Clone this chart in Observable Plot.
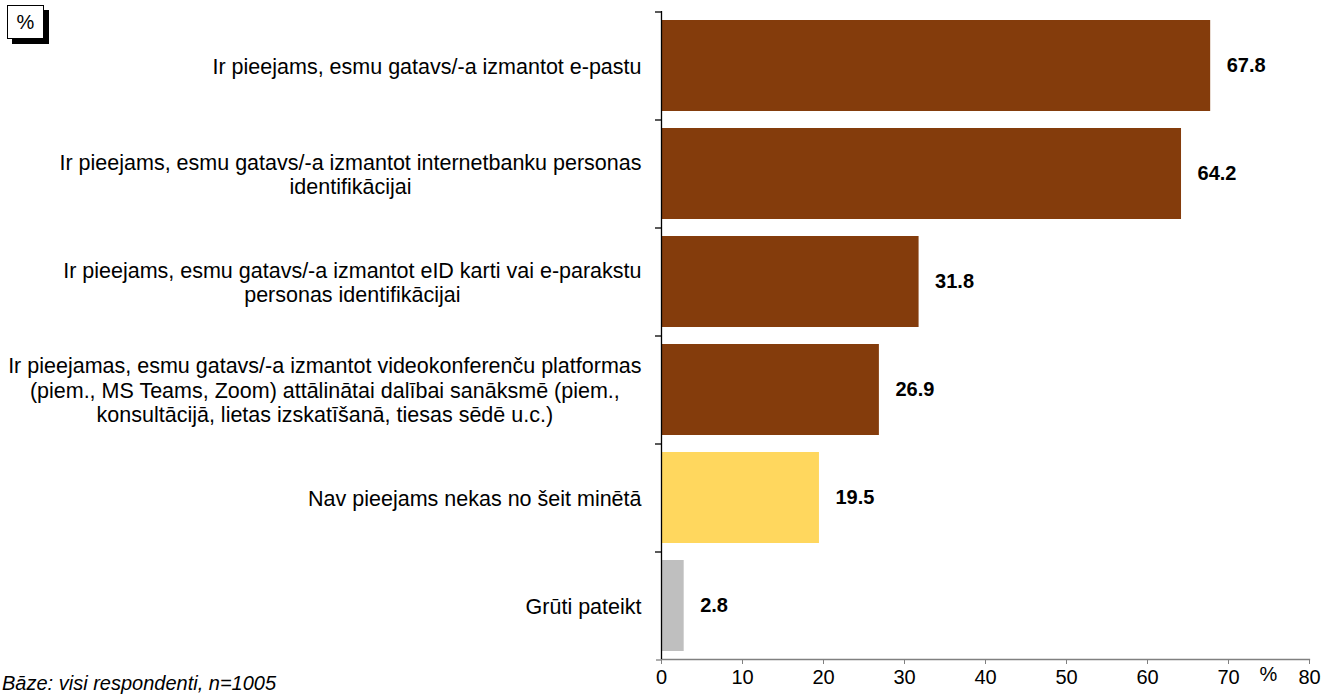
<!DOCTYPE html>
<html>
<head>
<meta charset="utf-8">
<script src="https://cdn.jsdelivr.net/npm/d3@7"></script>
<script src="https://cdn.jsdelivr.net/npm/@observablehq/plot@0.6"></script>
<style>
  html, body { margin: 0; padding: 0; overflow: hidden; background: #fff; width: 1333px; height: 695px; }
  #wrap { position: relative; width: 1333px; height: 695px; font-family: "Liberation Sans", Arial, sans-serif; }
  #chart { position: absolute; left: 0; top: 0; }
  #unitbox { position: absolute; left: 7px; top: 5px; width: 35px; height: 32px; border: 1px solid #000; background: #fff;
    box-shadow: 5px 5px 0 #000; font-size: 20px; line-height: 32px; text-align: center; color: #000; }
  #caption { position: absolute; left: 2px; top: 672px; font-size: 20px; line-height: 22px; font-style: italic; color: #000; white-space: nowrap; }
</style>
</head>
<body>
<div id="wrap">
  <div id="chart"></div>
  <div id="unitbox">%</div>
  <div id="caption">Bāze: visi respondenti, n=1005</div>
</div>
<script>
const categories = [
  "Ir pieejams, esmu gatavs/-a izmantot e-pastu",
  "Ir pieejams, esmu gatavs/-a izmantot internetbanku personas\nidentifikācijai",
  "Ir pieejams, esmu gatavs/-a izmantot eID karti vai e-parakstu\npersonas identifikācijai",
  "Ir pieejamas, esmu gatavs/-a izmantot videokonferenču platformas\n(piem., MS Teams, Zoom) attālinātai dalībai sanāksmē (piem.,\nkonsultācijā, lietas izskatīšanā, tiesas sēdē u.c.)",
  "Nav pieejams nekas no šeit minētā",
  "Grūti pateikt"
];
const values = [67.8, 64.2, 31.8, 26.9, 19.5, 2.8];
const barColors = ["#843C0C", "#843C0C", "#843C0C", "#843C0C", "#FFD75E", "#BFBFBF"];
const xTicks = [0, 10, 20, 30, 40, 50, 60, 70, 80];
const unitLabel = "%";

const data = categories.map((c, i) => ({category: c, value: values[i], color: barColors[i]}));

const W = 1333, H = 695;
const mTop = 11, mBottom = 36, mLeft = 661, mRight = 24;
const step = (H - mTop - mBottom) / categories.length;
const labelFont = 21.5;
const font = "Liberation Sans, Arial, sans-serif";

const ctx = document.createElement("canvas").getContext("2d");
ctx.font = `${labelFont}px "Liberation Sans"`;
const blockWidth = s => d3.max(s.split("\n"), l => ctx.measureText(l).width);

const labelMarks = categories.map(c =>
  Plot.text([c], {
    x: () => 0, y: d => d, text: d => d,
    textAnchor: "middle", lineAnchor: "middle", lineHeight: 1.14,
    dx: -20 - blockWidth(c) / 2,
    fontSize: labelFont, fill: "#000"
  })
);

const plot = Plot.plot({
  width: W, height: H,
  marginTop: mTop, marginBottom: mBottom, marginLeft: mLeft, marginRight: mRight,
  style: {fontFamily: font, background: "transparent"},
  x: {domain: [0, 80]},
  y: {domain: categories, paddingInner: 0.16, paddingOuter: 0.08, axis: null},
  marks: [
    Plot.barX(data, {x: "value", y: "category", fill: "color"}),
    // x axis baseline (gray)
    Plot.frame({anchor: "bottom", stroke: "#808080", strokeWidth: 1.3}),
    Plot.ruleY(categories.slice(-1), {y: d => d, x1: () => 0, x2: () => 0, insetLeft: -5, dy: step / 2, stroke: "#808080", strokeWidth: 1.3}),
    Plot.axisX({ticks: xTicks, tickSize: 5, tickPadding: 5, stroke: "#808080", fontSize: 20, fill: "#000", label: null, tickFormat: d => d}),
    // y axis line and category boundary ticks
    Plot.ruleX([0], {stroke: "#000", strokeWidth: 1.3}),
    Plot.ruleY(categories, {y: d => d, x1: () => 0, x2: () => 0, insetLeft: -6, dy: -step / 2, stroke: "#000", strokeWidth: 1.3}),
    // value labels
    Plot.text(data, {x: "value", y: "category", text: d => d.value.toFixed(1), textAnchor: "start", dx: 16,
      fontWeight: "bold", fontSize: 20, fill: "#000"}),
    // unit label on x axis
    Plot.text([unitLabel], {frameAnchor: "bottom-right", text: d => d, textAnchor: "middle", lineAnchor: "middle",
      dx: -41, dy: 15, fontSize: 20, fill: "#000"}),
    ...labelMarks
  ]
});
document.getElementById("chart").appendChild(plot);
</script>
</body>
</html>
